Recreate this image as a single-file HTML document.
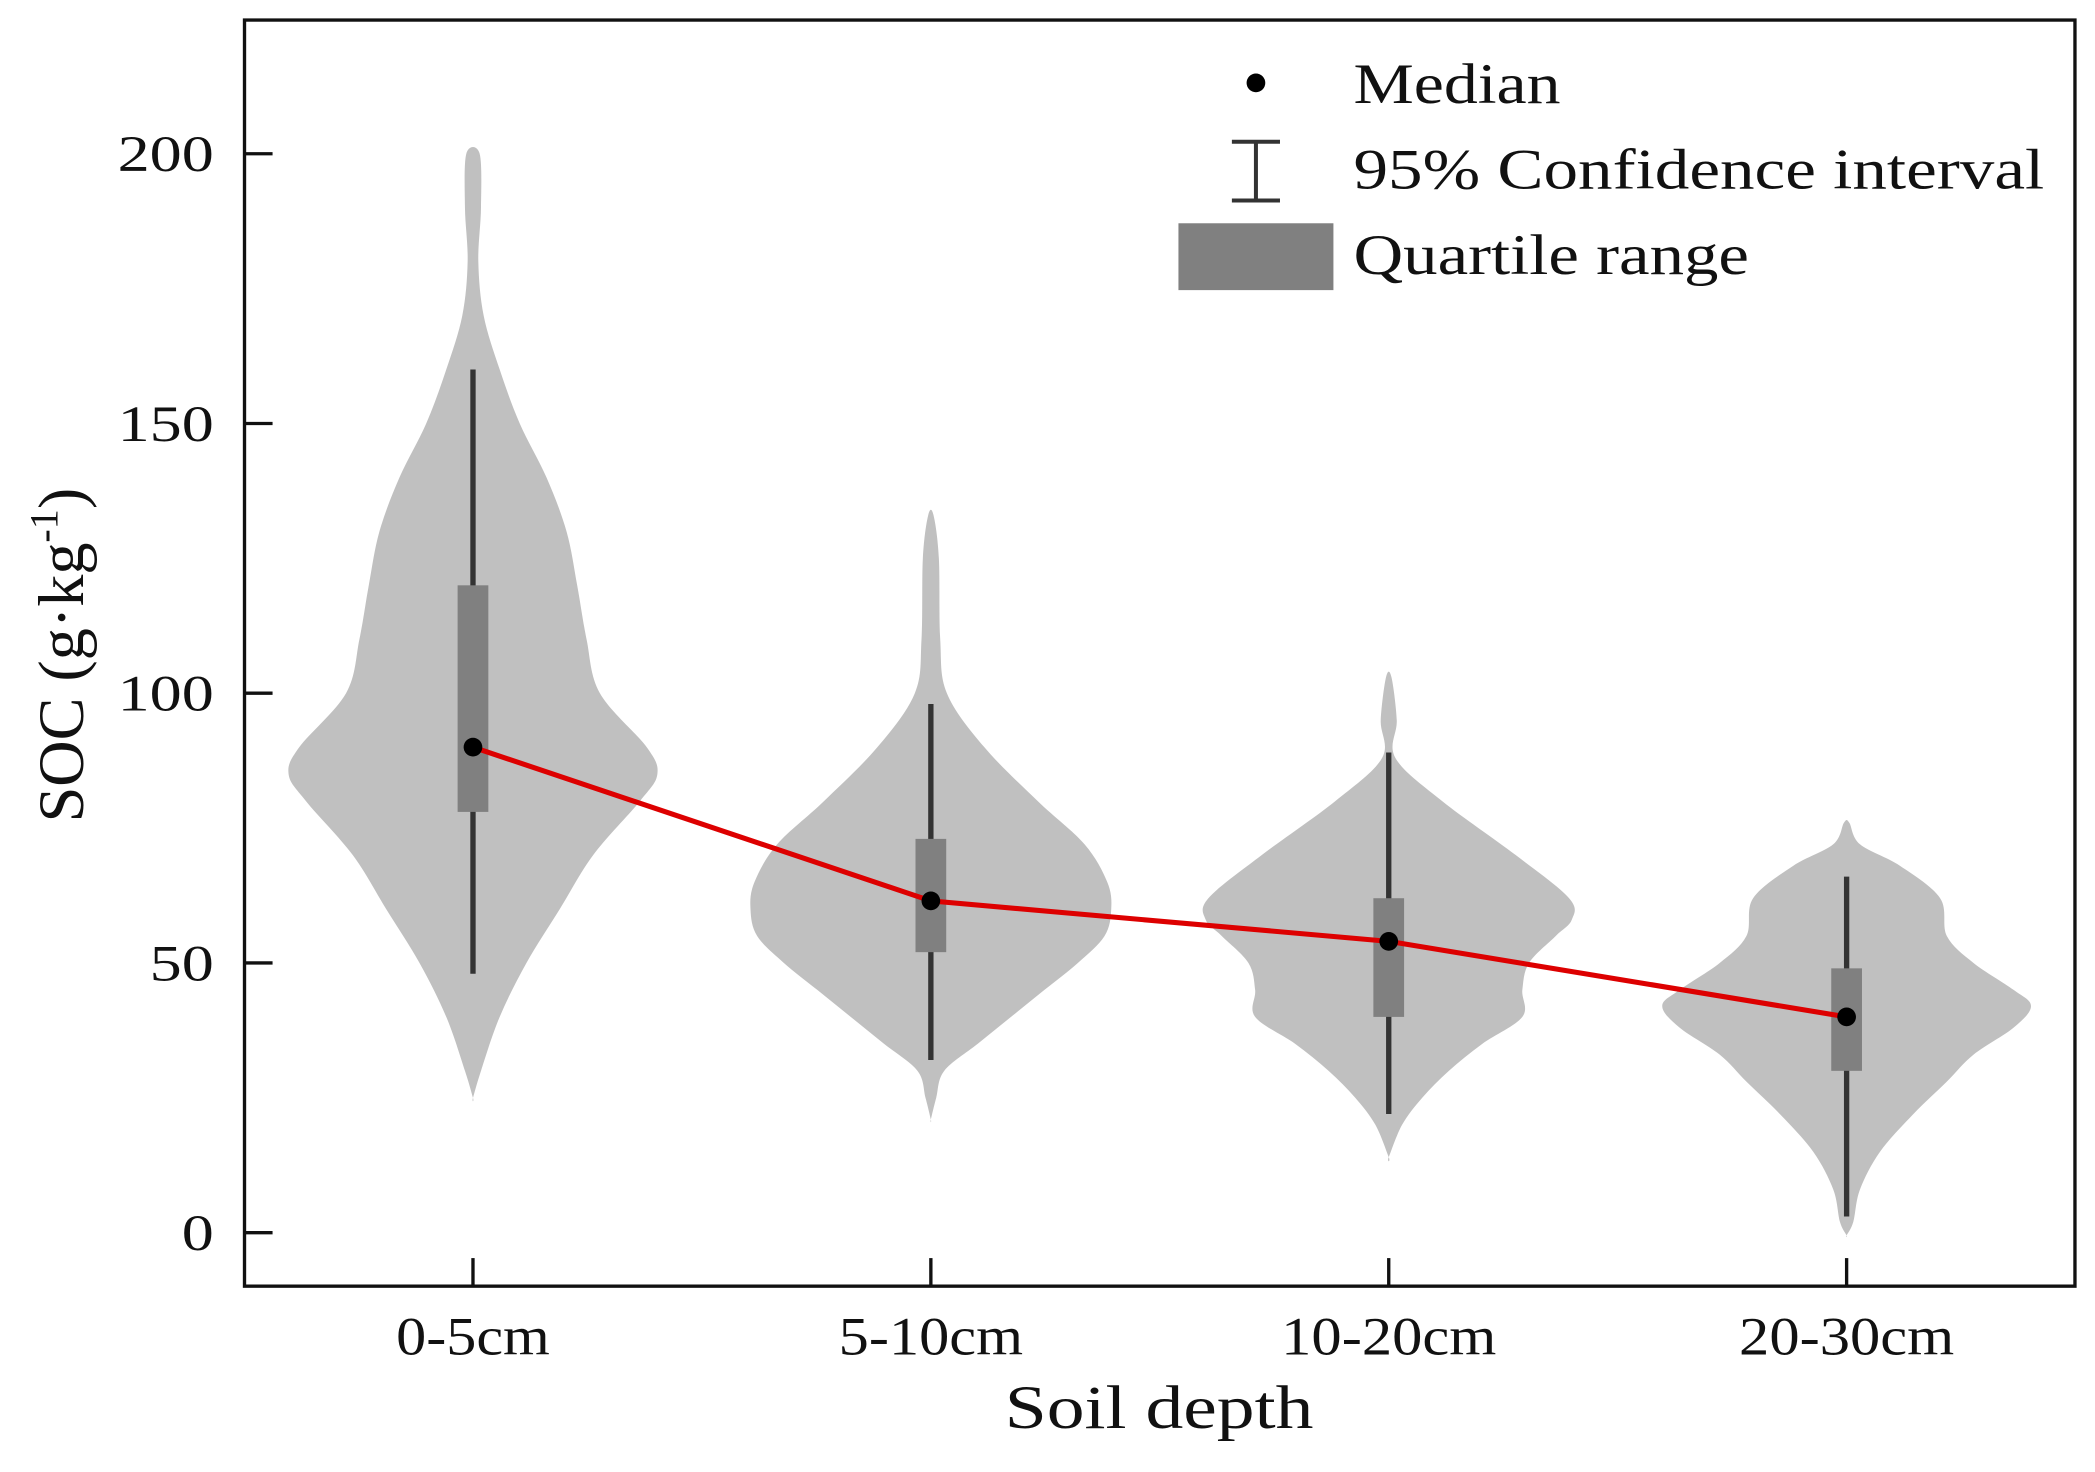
<!DOCTYPE html>
<html><head><meta charset="utf-8"><style>
html,body{margin:0;padding:0;background:#fff;}
svg{display:block;}
text{font-family:"Liberation Serif",serif;fill:#111;}
</style></head><body>
<svg id="chart" width="2095" height="1472" viewBox="0 0 1568 1101" preserveAspectRatio="none" xmlns="http://www.w3.org/2000/svg">
<g id="violins"></g>
<g id="ci"></g>
<g id="boxes"></g>
<polyline id="trend" fill="none" stroke="#dd0000" stroke-width="3.8"/>
<g id="medians"></g>
<rect x="183" y="15" width="1370" height="947" fill="none" stroke="#111" stroke-width="2.5"/>
<g id="yaxis"></g>
<g id="xaxis"></g>
<text x="752" y="1068" font-size="46" textLength="231" lengthAdjust="spacingAndGlyphs">Soil depth</text>
<text transform="translate(62,490) rotate(-90)" font-size="48" text-anchor="middle">SOC (g·kg<tspan font-size="30" dy="-19">-1</tspan><tspan dy="19">)</tspan></text>
<g>
<circle cx="940" cy="62" r="7" fill="#000"/>
<text x="1013" y="77" font-size="43" textLength="155" lengthAdjust="spacingAndGlyphs">Median</text>
<path d="M922 106H958M940 106V150M922 150H958" stroke="#333" stroke-width="3" fill="none"/>
<text x="1013" y="141" font-size="43" textLength="517" lengthAdjust="spacingAndGlyphs">95% Confidence interval</text>
<rect x="882" y="167" width="116" height="50" fill="#808080"/>
<text x="1013" y="205" font-size="43" textLength="296" lengthAdjust="spacingAndGlyphs">Quartile range</text>
</g>
</svg>
<script>
const categories = ["0-5cm","5-10cm","10-20cm","20-30cm"];
const yTicks = [0,50,100,150,200];
const medians = [90,61.5,54,40];
const q1 = [78,52,40,30];
const q3 = [120,73,62,49];
const ciLow = [48,32,22,3];
const ciHigh = [160,98,89,66];
const violin1Values = [200,190,180,170,160,150,140,130,120,110,100,90,85,80,70,60,50,40,30,25];
const violin1Width  = [5,6,4,8,20,35,55,70,78,85,95,130,138,125,90,65,40,20,6,0];
const violin2Values = [133,125,110,100,90,80,72,65,60,55,50,45,40,35,30,25,21];
const violin2Width  = [2,6,7,12,40,80,115,132,135,130,110,85,60,35,10,4,0];
const violin3Values = [103,95,88,80,70,62,58,55,50,45,40,35,30,25,20,14];
const violin3Width  = [2,6,5,40,95,135,137,125,105,100,100,70,45,25,10,0];
const violin4Values = [76,72,68,62,55,50,45,42,38,33,28,22,15,8,2,-0.5];
const violin4Width  = [2,10,40,70,75,95,125,138,125,95,75,50,25,10,5,0];
const violinValues=[violin1Values,violin2Values,violin3Values,violin4Values];
const violinWidths=[violin1Width,violin2Width,violin3Width,violin4Width];
const NS="http://www.w3.org/2000/svg";
const xS=i=>354+i*342.7;
const yS=v=>922-v*4.035;
function mk(tag,attrs,parent){const e=document.createElementNS(NS,tag);for(const k in attrs)e.setAttribute(k,attrs[k]);parent.appendChild(e);return e;}
const gV=document.getElementById('violins'),gC=document.getElementById('ci'),gB=document.getElementById('boxes'),gM=document.getElementById('medians');
categories.forEach((c,i)=>{
  const cx=xS(i),vals=violinValues[i],w=violinWidths[i];
  let pts=vals.map((v,j)=>[cx+w[j],yS(v)]);
  let left=vals.map((v,j)=>[cx-w[j],yS(v)]).reverse();
  const all=pts.concat(left);
  let d=`M${all[0][0]},${all[0][1]}`;
  for(let k=0;k<all.length;k++){
    const p0=all[(k-1+all.length)%all.length],p1=all[k],p2=all[(k+1)%all.length],p3=all[(k+2)%all.length];
    const c1=[p1[0]+(p2[0]-p0[0])/6,p1[1]+(p2[1]-p0[1])/6],c2=[p2[0]-(p3[0]-p1[0])/6,p2[1]-(p3[1]-p1[1])/6];
    d+=` C${c1[0]},${c1[1]} ${c2[0]},${c2[1]} ${p2[0]},${p2[1]}`;
  }
  const vp=mk('path',{d:d,fill:'#c0c0c0'},gV);
  
  
  const l=mk('line',{x1:cx,x2:cx,y1:yS(ciLow[i]),y2:yS(ciHigh[i]),stroke:'#333','stroke-width':4},gC);
  
  
  const r=mk('rect',{x:cx-11.5,width:23,y:yS(q3[i]),height:yS(q1[i])-yS(q3[i]),fill:'#808080'},gB);
  
  
});
document.getElementById('trend').setAttribute('points',medians.map((m,i)=>xS(i)+','+yS(m)).join(' '));
medians.forEach((m,i)=>{
  const p=mk('circle',{cx:xS(i),cy:yS(m),r:7,fill:'#000'},gM);
  
  
});
const gY=document.getElementById('yaxis');
yTicks.forEach(t=>{
  const tl=mk('line',{x1:183,x2:204,y1:yS(t),y2:yS(t),stroke:'#111','stroke-width':2.5},gY);
  
  
  const s=String(t);
  const tx=mk('text',{x:160-24*s.length,y:yS(t)+13,'font-size':38,textLength:24*s.length,lengthAdjust:'spacingAndGlyphs'},gY);
  tx.textContent=s;
  
  
});
const gX=document.getElementById('xaxis');
categories.forEach((c,i)=>{
  const tl=mk('line',{x1:xS(i),x2:xS(i),y1:941,y2:962,stroke:'#111','stroke-width':2.5},gX);
  
  
  const len=c.length*23;
  const tx=mk('text',{x:xS(i)-len/2,y:1013,'font-size':40,textLength:len,lengthAdjust:'spacingAndGlyphs'},gX);
  tx.textContent=c;
  
  
});
</script>
</body></html>
